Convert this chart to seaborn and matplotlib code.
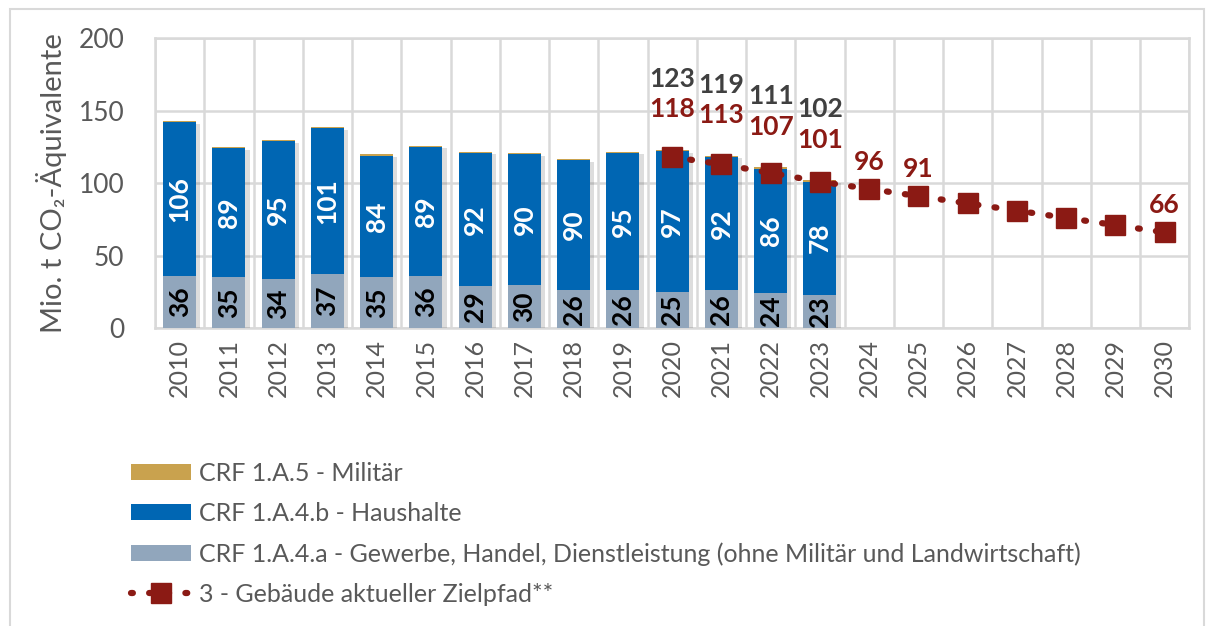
import matplotlib
matplotlib.use("Agg")
from matplotlib import pyplot as plt
from matplotlib import patheffects as pe
from matplotlib.lines import Line2D
from matplotlib.patches import Patch, Rectangle
import pandas as pd
import seaborn as sns

years = [str(y) for y in range(2010, 2031)]
hist_years = [str(y) for y in range(2010, 2024)]
gewerbe = [36, 35, 34, 37, 35, 36, 29, 30, 26, 26, 25, 26, 24, 23]
haushalte = [106, 89, 95, 101, 84, 89, 92, 90, 90, 95, 97, 92, 86, 78]
militaer = [0.9, 0.9, 0.9, 0.9, 0.9, 0.9, 0.8, 0.8, 0.8, 0.8, 0.9, 0.9, 0.9, 0.9]
totals_shown = {"2020": 123, "2021": 119, "2022": 111, "2023": 102}
target_years = [str(y) for y in range(2020, 2031)]
target = [118, 113, 107, 101, 96, 91, 86, 81, 76, 71, 66]
target_labeled = ["2020", "2021", "2022", "2023", "2024", "2025", "2030"]

legend_labels = [
    "CRF 1.A.5 - Militär",
    "CRF 1.A.4.b - Haushalte",
    "CRF 1.A.4.a - Gewerbe, Handel, Dienstleistung (ohne Militär und Landwirtschaft)",
    "3 - Gebäude aktueller Zielpfad**",
]

c_gold = "#C9A24E"
c_blue = "#0066B3"
c_gray = "#91A6BC"
c_red = "#8B1A14"
c_text = "#595959"

df = pd.DataFrame({"year": hist_years, "gew": gewerbe, "hh": haushalte, "mil": militaer})
df["lvl2"] = df["gew"] + df["hh"]
df["lvl3"] = df["lvl2"] + df["mil"]

sns.set_style("white")
plt.rcParams["font.family"] = ["Lato", "DejaVu Sans"]

fig = plt.figure(figsize=(12.14, 6.26), dpi=100)
ax = fig.add_axes([0.1277, 0.476, 0.852, 0.463])

shadow = [pe.SimplePatchShadow(offset=(3, -2), alpha=0.2, shadow_rgbFace="#555555"), pe.Normal()]
for col, color in [("lvl3", c_gold), ("lvl2", c_blue), ("gew", c_gray)]:
    sns.barplot(data=df, x="year", y=col, order=years, color=color, width=0.67,
                saturation=1, ax=ax, zorder=3)
for p in ax.patches:
    p.set_edgecolor("none")
    if p.get_facecolor()[:3] == matplotlib.colors.to_rgb(c_gold):
        p.set_path_effects(shadow)

pos = {y: i for i, y in enumerate(years)}
for y, g, h in zip(hist_years, gewerbe, haushalte):
    ax.text(pos[y], g / 2, str(g), rotation=90, ha="center", va="center",
            fontsize=19, fontweight="bold", color="black", zorder=5)
    ax.text(pos[y], g + h / 2, str(h), rotation=90, ha="center", va="center",
            fontsize=19, fontweight="bold", color="white", zorder=5)

tx = [pos[y] for y in target_years]
ax.plot(tx, target, color=c_red, linestyle=(0, (0.3, 2.6)), linewidth=4.5,
        dash_capstyle="round", marker="s", markersize=15, markeredgecolor=c_red,
        zorder=6)

for y, v in zip(target_years, target):
    if y not in target_labeled:
        continue
    if y in totals_shown:
        tot = totals_shown[y]
        ax.text(pos[y], tot + 28, str(v), ha="center", va="center", fontsize=19,
                fontweight="bold", color=c_red, zorder=7)
        ax.text(pos[y], tot + 49, str(tot), ha="center", va="center", fontsize=19,
                fontweight="bold", color="#404040", zorder=7)
    else:
        ax.annotate(str(v), (pos[y], v), xytext=(0, 15), textcoords="offset pixels",
                    ha="center", va="bottom", fontsize=19, fontweight="bold",
                    color=c_red, zorder=7)

ax.set_xlim(-0.5, len(years) - 0.5)
ax.set_ylim(0, 200)
ax.set_yticks([0, 50, 100, 150, 200])
ax.set_xticks(range(len(years)))
ax.set_xticklabels(years, rotation=90)
ax.set_xticks([i - 0.5 for i in range(len(years) + 1)], minor=True)
ax.grid(True, axis="y", color="#D9D9D9", linewidth=1.8, zorder=0)
ax.grid(True, axis="x", which="minor", color="#D9D9D9", linewidth=1.8, zorder=0)
ax.grid(False, axis="x", which="major")
ax.set_axisbelow(True)
ax.tick_params(axis="y", length=0, pad=22, labelsize=19, labelcolor=c_text)
ax.tick_params(axis="x", which="both", length=0, pad=8, labelsize=18, labelcolor=c_text)
for s in ax.spines.values():
    s.set_color("#D9D9D9")
    s.set_linewidth(1.8)
ax.set_xlabel("")
ax.set_ylabel("Mio. t CO₂-Äquivalente", fontsize=21, color=c_text, labelpad=8)

handles = [
    Patch(facecolor=c_gold, edgecolor="none"),
    Patch(facecolor=c_blue, edgecolor="none"),
    Patch(facecolor=c_gray, edgecolor="none"),
    Line2D([0], [0], color=c_red, linestyle=(0, (0.3, 2.6)), linewidth=4.5,
           dash_capstyle="round", marker="s", markersize=14),
]
fig.legend(handles, legend_labels, loc="upper left", bbox_to_anchor=(0.1, 0.278),
           frameon=False, fontsize=18, labelcolor=c_text, handlelength=2.4,
           handleheight=0.6, labelspacing=0.68, handletextpad=0.3, borderaxespad=0)

fig.patches.append(Rectangle((0.008, -0.01), 0.984, 0.995, transform=fig.transFigure,
                             fill=False, edgecolor="#D9D9D9", linewidth=1.5))

fig.savefig("out.png", dpi=100)
